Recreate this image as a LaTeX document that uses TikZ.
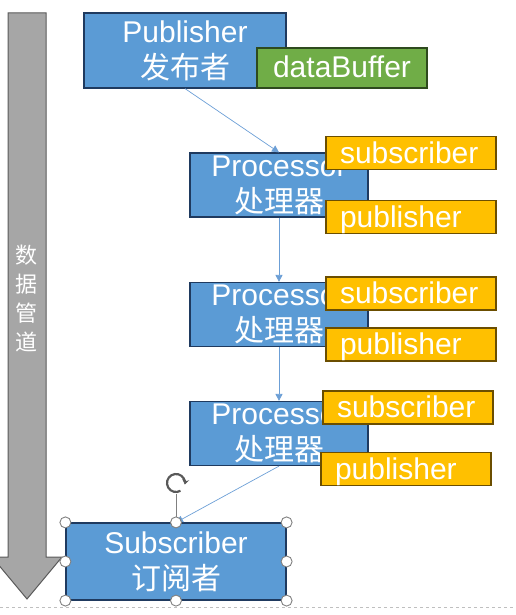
\documentclass[tikz,border=0pt]{standalone}
\usepackage{fontspec}
\setmainfont{Liberation Sans}
\newfontfamily\cjk{Noto Sans CJK SC}
\usetikzlibrary{arrows.meta}
\definecolor{boxblue}{HTML}{5B9BD5}
\definecolor{boxedge}{HTML}{1F3A5F}
\definecolor{buffergreen}{HTML}{70AD47}
\definecolor{bufferedge}{HTML}{2E4A1E}
\definecolor{tagorange}{HTML}{FFC000}
\definecolor{tagedge}{HTML}{6B4E00}
\definecolor{pipegray}{HTML}{A6A6A6}
\definecolor{pipeedge}{HTML}{5A5A5A}
\definecolor{flowline}{HTML}{6C9FD6}
\begin{document}
\begin{tikzpicture}[x=1pt, y=-1pt,
		stage/.style={draw=boxedge, line width=1.2pt, fill=boxblue, text=white, align=center,
			inner sep=0pt, font=\fontsize{30}{36}\selectfont},
		tag/.style={draw=tagedge, line width=1.2pt, fill=tagorange, text=white, text width=142pt,
			align=left, inner xsep=14pt, inner ysep=0pt, minimum height=33pt,
			text height=25pt, text depth=5pt, font=\fontsize{30}{36}\selectfont},
		flow/.style={draw=flowline, line width=.7pt, -{Triangle[length=7pt, width=7pt]}},
		handle/.style={circle, draw=gray, fill=white, line width=.9pt, minimum size=11pt, inner sep=0pt}]
		\useasboundingbox (0,0) rectangle (515,615);
		% pipe arrow on the left
		\draw[pipeedge, fill=pipegray, line width=1pt]
			(8,13) -- (46,13) -- (46,557) -- (62,557) -- (27,599) -- (-8,557) -- (8,557) -- cycle;
		\node[text=white, align=center, font=\cjk\fontsize{22}{29}\selectfont] (pipelabel) at (27,298) {数\\据\\管\\道};
		\draw[gray!50, dashed, line width=.6pt] (0,607) -- (515,607);
		% publisher
		\node[stage, minimum width=202pt, minimum height=75pt] (publisher) at (185,50.5) {Publisher\\{\cjk 发布者}};
		\node[draw=bufferedge, line width=1.2pt, fill=buffergreen, text=white, inner sep=0pt,
			minimum width=170pt, minimum height=40pt, text height=25pt, text depth=5pt,
			font=\fontsize{30}{36}\selectfont] (buffer) at (342,68) {dataBuffer};
		% processors
		\foreach \py/\sx/\sy/\qx/\qy [count=\k] in {185/411/153/411/217, 314.5/411/293.5/411/344.5, 433.5/408/407.5/406/469}{
				\node[stage, minimum width=178pt, minimum height=64pt] (proc\k) at (279,\py) {Processor\\{\cjk 处理器}};
				\node[tag] (in\k) at (\sx,\sy) {subscriber};
				\node[tag] (out\k) at (\qx,\qy) {publisher};
			}
		% subscriber
		\node[stage, minimum width=220pt, minimum height=77pt] (subscriber) at (176,561.5) {Subscriber\\{\cjk 订阅者}};
		\draw[flow] (publisher.south) -- (proc1.north);
		\foreach \i [count = \j] in {2,3}{ \draw[flow] (proc\j.south) -- (proc\i.north); }
		\draw[flow] (proc3.south) -- (subscriber.north);
		% selection handles
		\coordinate (rot) at (176,483);
		\draw[gray, line width=.9pt] (subscriber.north) -- (176,494);
		\draw[gray!70!black, line width=2.2pt, -{Stealth[length=5pt, width=7pt]}] (rot) ++(60:9) arc (60:370:9);
		\foreach \a [count = \i] in {north west, north, north east, west, east, south west, south, south east}{
				\node[handle] (hdl\i) at (subscriber.\a) {};
			}
	\end{tikzpicture}
\end{document}
